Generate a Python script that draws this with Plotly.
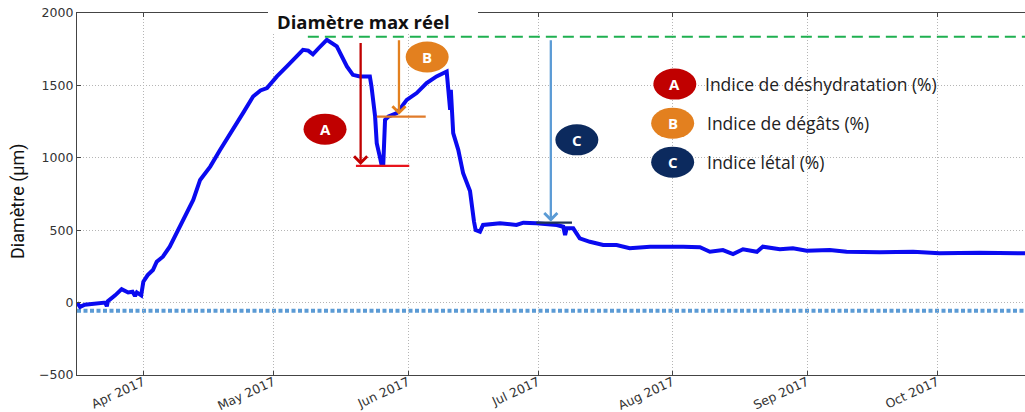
import plotly.graph_objects as go

# ---------------- data ----------------
dates = [
    "2017-03-16 17:00", "2017-03-17 10:00", "2017-03-18 12:00", "2017-03-20 05:00",
    "2017-03-21 12:00", "2017-03-23 05:00", "2017-03-23 14:00", "2017-03-23 20:00",
    "2017-03-25 12:00", "2017-03-27 00:00", "2017-03-28 12:00", "2017-03-29 12:00",
    "2017-03-30 02:00", "2017-03-30 12:00", "2017-03-31 12:00", "2017-04-01 00:00",
    "2017-04-02 00:00", "2017-04-03 05:00", "2017-04-04 02:00", "2017-04-05 12:00",
    "2017-04-07 02:00", "2017-04-08 17:00", "2017-04-11 00:00", "2017-04-12 12:00",
    "2017-04-14 02:00", "2017-04-16 10:00", "2017-04-18 17:00", "2017-04-21 17:00",
    "2017-04-24 00:00", "2017-04-26 07:00", "2017-04-28 00:00", "2017-04-29 12:00",
    "2017-05-01 19:00", "2017-05-04 02:00", "2017-05-06 10:00", "2017-05-07 19:00",
    "2017-05-09 00:00", "2017-05-10 02:00", "2017-05-11 12:00", "2017-05-13 07:00",
    "2017-05-15 14:00", "2017-05-17 22:00", "2017-05-19 07:00", "2017-05-20 22:00",
    "2017-05-23 05:00", "2017-05-23 14:00", "2017-05-24 10:00", "2017-05-24 19:00",
    "2017-05-25 12:00", "2017-05-25 22:00", "2017-05-26 07:00", "2017-05-26 17:00",
    "2017-05-27 12:00", "2017-05-29 10:00", "2017-05-31 17:00", "2017-06-03 00:00",
    "2017-06-05 07:00", "2017-06-07 14:00", "2017-06-09 22:00", "2017-06-10 07:00",
    "2017-06-10 17:00", "2017-06-10 21:00", "2017-06-11 04:00", "2017-06-11 10:00",
    "2017-06-12 14:00", "2017-06-13 17:00", "2017-06-15 07:00", "2017-06-15 17:00",
    "2017-06-16 05:00", "2017-06-16 14:00", "2017-06-17 14:00", "2017-06-18 07:00",
    "2017-06-22 05:00", "2017-06-26 00:00", "2017-06-27 14:00", "2017-06-30 14:00",
    "2017-07-05 07:00", "2017-07-06 19:00", "2017-07-07 05:00", "2017-07-07 14:00",
    "2017-07-09 02:00", "2017-07-10 14:00", "2017-07-12 22:00", "2017-07-16 00:00",
    "2017-07-19 02:00", "2017-07-22 02:00", "2017-07-26 19:00", "2017-08-03 10:00",
    "2017-08-07 07:00", "2017-08-09 14:00", "2017-08-12 14:00", "2017-08-14 22:00",
    "2017-08-17 05:00", "2017-08-20 10:00", "2017-08-21 19:00", "2017-08-25 17:00",
    "2017-08-28 17:00", "2017-08-31 22:00", "2017-09-06 05:00", "2017-09-10 02:00",
    "2017-09-17 17:00", "2017-09-25 10:00", "2017-10-01 12:00", "2017-10-10 19:00",
    "2017-10-21 05:00",
]
diametre = [
    0, -30, -15, -12,
    -5, 0, -25, 10,
    50, 93, 70, 75,
    45, 70, 50, 144,
    190, 225, 282, 317,
    386, 480, 619, 709,
    847, 939, 1055, 1193,
    1310, 1423, 1465, 1481,
    1562, 1631, 1700, 1746,
    1740, 1715, 1760, 1815,
    1769, 1631, 1573, 1562,
    1562, 1493, 1285, 1101,
    1008, 951, 951, 1262,
    1285, 1308, 1400, 1447,
    1516, 1562, 1596, 1493,
    1331, 1470, 1300, 1170,
    1055, 893, 770, 650,
    560, 501, 490, 536,
    548, 536, 552, 548,
    536, 524, 467, 513,
    513, 444, 420, 398,
    398, 375, 386, 386,
    382, 351, 363, 335,
    368, 351, 386, 368,
    375, 358, 363, 351,
    347, 351, 340, 344,
    340,
]

x_range = ["2017-03-16 17:00", "2017-10-21 05:00"]
y_range = [-500, 2000]
y_ticks = [-500, 0, 500, 1000, 1500, 2000]

diam_max_reel = 1836
ref_bas = -57
green_start = "2017-05-08 22:00"

title_max = "Diamètre max réel"
y_title = "Diamètre (µm)"
legend_labels = ["Indice de déshydratation (%)", "Indice de dégâts (%)", "Indice létal (%)"]
letters = ["A", "B", "C"]
letter_colors = ["#c00000", "#e3801f", "#0c2a5e"]

# arrows: (x, y_tail, y_tip, colour), bars: (x0, x1, y, colour)
arrows = [
    ("2017-05-21 02:00", 1804, 951, "#c00000"),
    ("2017-05-29 22:00", 1822, 1297, "#e3801f"),
    ("2017-07-03 22:00", 1822, 559, "#5b9bd5"),
]
bars = [
    ("2017-05-20 00:00", "2017-06-01 07:00", 944, "#e8141c"),
    ("2017-05-24 19:00", "2017-06-05 02:00", 1285, "#e07b2a"),
    ("2017-06-30 14:00", "2017-07-08 19:00", 552, "#1f3457"),
]
bubbles = [
    ("2017-05-12 21:00", 1198),
    ("2017-06-05 10:00", 1696),
    ("2017-07-09 22:00", 1124),
]
legend_bubbles = [
    ("2017-08-01 12:00", 1509),
    ("2017-08-01 00:00", 1239),
    ("2017-08-01 00:00", 970),
]
legend_text_x = ["2017-08-07 22:00", "2017-08-08 12:00", "2017-08-08 12:00"]

# ---------------- figure ----------------
fig = go.Figure()

L, T, W, H = 77, 13, 948, 362

shapes = []
# white box hiding part of the top spine behind the title
shapes.append(dict(type="rect", xref="paper", yref="paper",
                   x0=(268 - L) / W, x1=(478 - L) / W, y0=(T + H - 33) / H, y1=(T + H - 9) / H,
                   fillcolor="white", line=dict(width=0), layer="above"))
# reference lines
shapes.append(dict(type="line", xref="paper", yref="y", x0=0, x1=1, y0=ref_bas, y1=ref_bas,
                   line=dict(color="#5b9bd5", width=4, dash="4px,2.5px"), layer="below"))
shapes.append(dict(type="line", xref="x", yref="y", x0=green_start, x1=x_range[1],
                   y0=diam_max_reel, y1=diam_max_reel,
                   line=dict(color="#1fb050", width=2.2, dash="11px,6px"), layer="above"))
for x0, x1, yv, col in bars:
    shapes.append(dict(type="line", xref="x", yref="y", x0=x0, x1=x1, y0=yv, y1=yv,
                       line=dict(color=col, width=2.2), layer="above"))
for (bx, by), col in zip(bubbles + legend_bubbles, letter_colors + letter_colors):
    shapes.append(dict(type="circle", xref="x", yref="y", xsizemode="pixel", ysizemode="pixel",
                       xanchor=bx, yanchor=by, x0=-21.5, x1=21.5, y0=-15.5, y1=15.5,
                       fillcolor=col, line=dict(width=0), layer="above"))

fig.add_trace(go.Scatter(x=dates, y=diametre, mode="lines",
                         line=dict(color="#0a0af0", width=4), showlegend=False))

annotations = []
for x, yt, yp, col in arrows:
    annotations.append(dict(x=x, y=yp, ax=x, ay=yt, xref="x", yref="y", axref="x", ayref="y",
                            text="", showarrow=True, arrowhead=4, arrowsize=1.1,
                            arrowwidth=2.3, arrowcolor=col))
for (bx, by), l in zip(bubbles + legend_bubbles, letters + letters):
    annotations.append(dict(x=bx, y=by, xref="x", yref="y", text="<b>%s</b>" % l,
                            xanchor="center", yanchor="middle",
                            showarrow=False, font=dict(family="Open Sans", size=15, color="white")))
for tx, (bx, by), lab in zip(legend_text_x, legend_bubbles, legend_labels):
    annotations.append(dict(x=tx, y=by, xref="x", yref="y", text=lab, xanchor="left",
                            yanchor="middle",
                            showarrow=False, font=dict(family="Open Sans", size=17.5, color="#222")))

annotations.append(dict(x=(363 - L) / W, y=(T + H - 22) / H, xref="paper", yref="paper",
                        xanchor="center", yanchor="middle",
                        text="<b>%s</b>" % title_max, showarrow=False,
                        font=dict(family="Open Sans", size=18.5, color="#111")))
annotations.append(dict(x=(18 - L) / W, y=(T + H - 201) / H, xref="paper", yref="paper",
                        xanchor="center", yanchor="middle",
                        text=y_title, textangle=-90, showarrow=False,
                        font=dict(family="Liberation Sans Narrow, Roboto, sans-serif", size=18,
                                  color="#111")))

fig.update_layout(
    width=1025, height=412,
    margin=dict(l=L, r=0, t=T, b=412 - T - H, autoexpand=False),
    paper_bgcolor="white", plot_bgcolor="white",
    shapes=shapes, annotations=annotations,
    showlegend=False,
)
fig.update_xaxes(
    range=x_range, type="date", tick0="2017-04-01", dtick="M1", tickformat="%b %Y",
    tickangle=-25, tickfont=dict(family="DejaVu Sans", size=12.5, color="#333"),
    showline=True, linecolor="#444", linewidth=1.3, mirror="ticks",
    ticks="inside", ticklen=4, tickcolor="#444", automargin=False, ticklabelstandoff=-6,
    showgrid=True, gridcolor="#b5b5b5", gridwidth=1, griddash="1px,2px", zeroline=False,
)
fig.update_yaxes(
    range=y_range, tickvals=y_ticks, tickfont=dict(family="DejaVu Sans", size=12.5, color="#333"),
    showline=True, linecolor="#444", linewidth=1.3, automargin=False,
    ticks="inside", ticklen=4, tickcolor="#444",
    showgrid=True, gridcolor="#b5b5b5", gridwidth=1, griddash="1px,2px", zeroline=False,
)

fig.write_html("out.html", config={"displayModeBar": False},
               post_script="document.body.style.margin='0';document.body.style.padding='0';")
